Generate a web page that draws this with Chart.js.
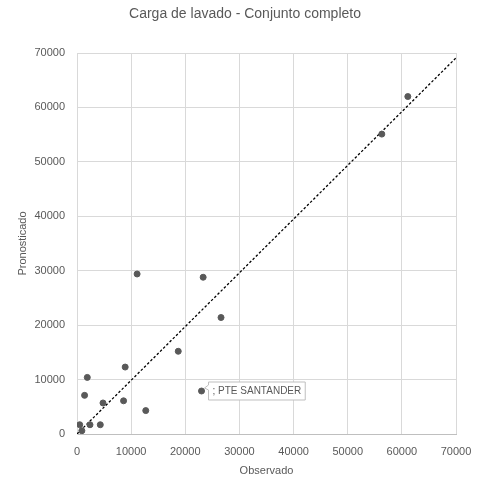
<!DOCTYPE html>
<html>
<head>
<meta charset="utf-8">
<script src="https://cdn.jsdelivr.net/npm/chart.js@4/dist/chart.umd.min.js"></script>
<style>
  html, body { margin: 0; padding: 0; background: #fff; }
  #wrap { width: 478px; height: 478px; }
</style>
</head>
<body>
<div id="wrap"><canvas id="grafico"></canvas></div>
<script>
// datos
const observado = [500, 900, 2400, 4300, 1400, 1900, 4800, 8600, 8900, 12700, 11100, 18700, 23000, 23300, 26600, 56300, 61100];
const pronosticado = [1700, 600, 1700, 1700, 7100, 10400, 5700, 6100, 12300, 4300, 29400, 15200, 7900, 28800, 21400, 55100, 62000];
const etiquetas = ["", "", "", "", "", "", "", "", "", "", "", "", "; PTE SANTANDER", "", "", "", ""];
const tendenciaX = [0, 70000];
const tendenciaY = [0, 69100];
const ticksEjes = [0, 10000, 20000, 30000, 40000, 50000, 60000, 70000];
const titulo = "Carga de lavado - Conjunto completo";

const gris = "#595959";
const fuente = "'Liberation Sans', Arial, sans-serif";

const puntos = observado.map((x, i) => ({ x: x, y: pronosticado[i] }));
const tendencia = tendenciaX.map((x, i) => ({ x: x, y: tendenciaY[i] }));

// titulo y etiqueta de dato con recuadro
const etiquetaPlugin = {
  id: "etiquetaDato",
  afterDraw(chart) {
    const ctx = chart.ctx;
    ctx.save();
    ctx.font = "14px " + fuente;
    ctx.fillStyle = gris;
    ctx.textAlign = "center";
    ctx.textBaseline = "middle";
    ctx.fillText(titulo, 245, 14);
    ctx.restore();
  },
  afterDatasetsDraw(chart) {
    const meta = chart.getDatasetMeta(0);
    const ctx = chart.ctx;
    ctx.save();
    ctx.font = "10px " + fuente;
    etiquetas.forEach((txt, i) => {
      if (!txt) return;
      const el = meta.data[i];
      const w = ctx.measureText(txt).width + 8;
      const h = 18;
      const x0 = el.x + 7;
      const y0 = el.y - 9;
      ctx.beginPath();
      ctx.moveTo(x0, y0);
      ctx.lineTo(x0 + w, y0);
      ctx.lineTo(x0 + w, y0 + h);
      ctx.lineTo(x0, y0 + h);
      ctx.lineTo(x0, y0 + 8);
      ctx.lineTo(x0 - 4, y0 + 6);
      ctx.lineTo(x0, y0 + 3);
      ctx.closePath();
      ctx.fillStyle = "#fff";
      ctx.fill();
      ctx.strokeStyle = "#bfbfbf";
      ctx.lineWidth = 1;
      ctx.stroke();
      ctx.fillStyle = gris;
      ctx.textBaseline = "middle";
      ctx.fillText(txt, x0 + 4, y0 + h / 2 + 0.5);
    });
    ctx.restore();
  }
};

const ctx = document.getElementById("grafico").getContext("2d");
new Chart(ctx, {
  type: "scatter",
  data: {
    datasets: [
      {
        label: "Datos",
        data: puntos,
        backgroundColor: gris,
        borderColor: gris,
        pointRadius: 3,
        pointHoverRadius: 3
      },
      {
        label: "Tendencia",
        data: tendencia,
        showLine: true,
        borderColor: "#000",
        borderWidth: 1.3,
        borderDash: [2.5, 2],
        pointRadius: 0,
        fill: false
      }
    ]
  },
  options: {
    responsive: true,
    maintainAspectRatio: false,
    animation: false,
    layout: { padding: { top: 53, right: 22, bottom: 0, left: 0 } },
    plugins: {
      legend: { display: false },
      tooltip: { enabled: false },
      title: { display: false }
    },
    scales: {
      x: {
        type: "linear",
        min: 0,
        max: 70000,
        afterBuildTicks: (s) => { s.ticks = ticksEjes.map(v => ({ value: v })); },
        afterFit: (s) => { s.height = 44; s.paddingRight = 0; s.paddingLeft = 0; },
        grid: { color: "#d9d9d9", drawTicks: false },
        border: { color: "#bfbfbf" },
        ticks: { color: gris, font: { family: fuente, size: 11 }, padding: 11, maxRotation: 0, callback: (v) => String(v) },
        title: { display: true, text: "Observado", color: gris, font: { family: fuente, size: 11 }, padding: { top: 0, bottom: 0 } }
      },
      y: {
        type: "linear",
        min: 0,
        max: 70000,
        afterBuildTicks: (s) => { s.ticks = ticksEjes.map(v => ({ value: v })); },
        afterFit: (s) => { s.width = 77; s.paddingTop = 0; s.paddingBottom = 0; },
        grid: { color: "#d9d9d9", drawTicks: false },
        border: { color: "#d9d9d9" },
        ticks: { color: gris, font: { family: fuente, size: 11 }, padding: 12, callback: (v) => String(v) },
        title: { display: true, text: "Pronosticado", color: gris, font: { family: fuente, size: 11 }, padding: { top: 16, bottom: 0 } }
      }
    }
  },
  plugins: [etiquetaPlugin]
});
</script>
</body>
</html>
